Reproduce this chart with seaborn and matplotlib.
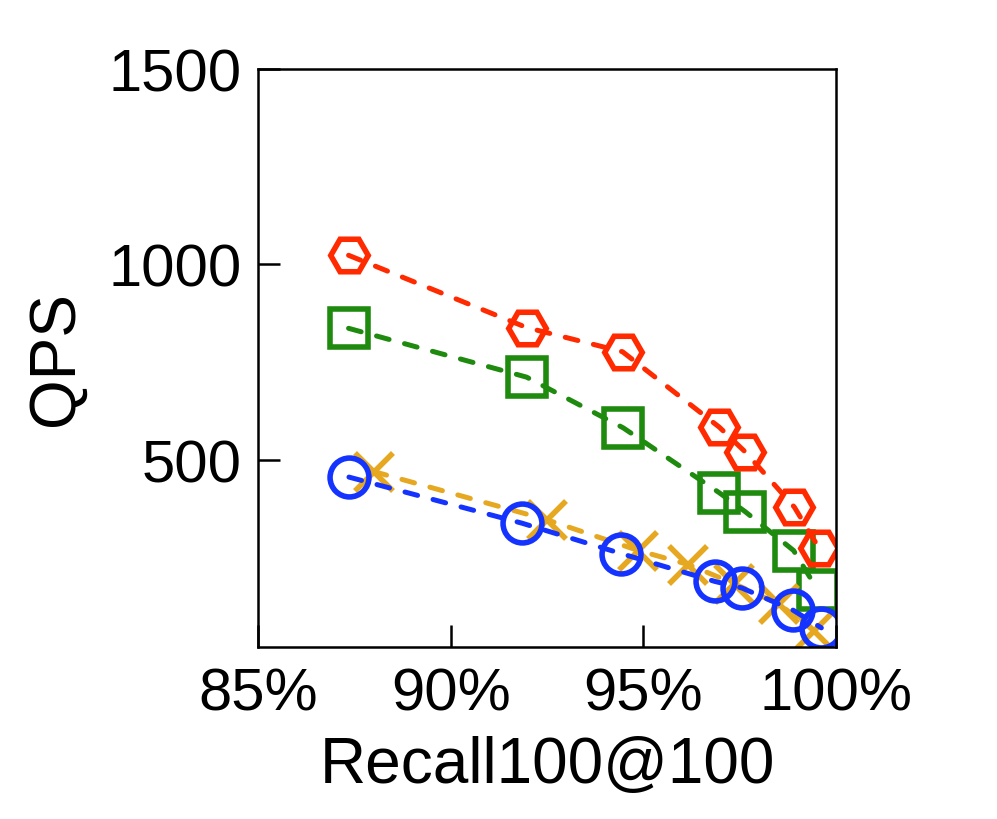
import matplotlib
matplotlib.use("Agg")
import matplotlib.pyplot as plt
import seaborn as sns
import pandas as pd
from matplotlib.ticker import FuncFormatter

# Data (recall in %, QPS)
red_recall = [87.35, 91.97, 94.46, 96.97, 97.65, 98.92, 99.56]
red_qps = [1023, 838, 776, 583, 519, 378, 273]

green_recall = [87.35, 91.97, 94.48, 96.97, 97.65, 98.90, 99.53]
green_qps = [836, 711, 581, 415, 366, 267, 165]

yellow_recall = [88.01, 92.49, 94.87, 96.17, 97.36, 98.53, 99.43]
yellow_qps = [469, 346, 267, 231, 182, 129, 62]

blue_recall = [87.36, 91.85, 94.43, 96.85, 97.56, 98.89, 99.62]
blue_qps = [455, 337, 259, 188, 171, 114, 69]

x_ticks = [85, 90, 95, 100]
y_ticks = [500, 1000, 1500]

sns.set_theme(style="white")
plt.rcParams['font.family'] = ['Liberation Sans', 'DejaVu Sans']
plt.rcParams['text.color'] = 'black'
plt.rcParams['axes.labelcolor'] = 'black'

fig = plt.figure(figsize=(9.97, 8.2), dpi=100)
ax = fig.add_axes([0.2588, 0.2098, 0.5797, 0.7048])

series = [
    (green_recall, green_qps, '#1e8a0e', 's', 27),
    (red_recall, red_qps, '#ff2a00', 'H', 27),
    (yellow_recall, yellow_qps, '#e6a820', 'x', 28),
    (blue_recall, blue_qps, '#1433ff', 'o', 28),
]
for xs, ys, col, mk, ms in series:
    df = pd.DataFrame({'recall': xs, 'qps': ys})
    sns.lineplot(data=df, x='recall', y='qps', ax=ax, color=col,
                 linewidth=3.6, marker=mk, markersize=ms, markerfacecolor='none',
                 markeredgecolor=col, markeredgewidth=4.0,
                 sort=False, legend=False)

for ln in ax.lines:
    ln.set_dashes((2.6, 3.2))
    ln.set_dash_capstyle('round')

ax.set_xlim(85, 100)
ax.set_ylim(20, 1500)
ax.set_xticks(x_ticks)
ax.set_yticks(y_ticks)
ax.xaxis.set_major_formatter(FuncFormatter(lambda v, p: f"{int(round(v))}%"))
ax.tick_params(axis='both', direction='in', length=16, width=1.8, labelsize=43,
               colors='black', pad=12, bottom=True, left=True, top=False, right=False)
ax.tick_params(axis='x', pad=14)
for s in ax.spines.values():
    s.set_visible(True)
    s.set_color('black')
    s.set_linewidth(1.8)
ax.set_xlabel('Recall100@100', fontsize=46, labelpad=10, color='black')
ax.set_ylabel('QPS', fontsize=46, labelpad=16, color='black')
ax.grid(False)

fig.savefig('out.png', dpi=100, facecolor='white')
